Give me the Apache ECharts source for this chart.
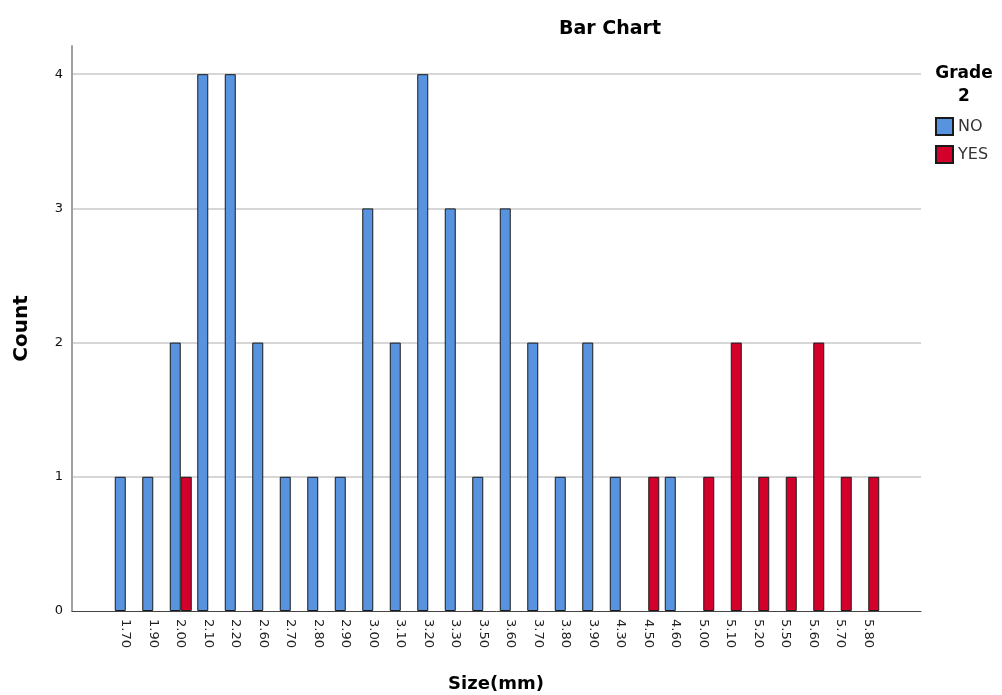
<!DOCTYPE html>
<html>
<head>
<meta charset="utf-8">
<script src="https://cdn.jsdelivr.net/npm/echarts@6/dist/echarts.min.js"></script>
<style>html,body{margin:0;padding:0;background:#fff;}#c{width:1002px;height:695px;}</style>
</head>
<body>
<div id="c"></div>
<script>
const categories = ['1.70','1.90','2.00','2.10','2.20','2.60','2.70','2.80','2.90','3.00','3.10','3.20','3.30','3.50','3.60','3.70','3.80','3.90','4.30','4.50','4.60','5.00','5.10','5.20','5.50','5.60','5.70','5.80'];
const noCounts  = [1,1,2,4,4,2,1,1,1,3,2,4,3,1,3,2,1,2,1,0,1,0,0,0,0,0,0,0];
const yesCounts = [0,0,1,0,0,0,0,0,0,0,0,0,0,0,0,0,0,0,0,1,0,1,2,1,1,2,1,1];
const yTicks = [0,1,2,3,4];

const FONT = '"DejaVu Sans", Arial, sans-serif';
const chart = echarts.init(document.getElementById('c'), null, {renderer:'canvas'});
const toData = arr => arr.map(v => v === 0 ? null : v);

chart.setOption({
  backgroundColor: '#ffffff',
  animation: false,
  textStyle: {fontFamily: FONT},
  title: [
    {text: 'Bar Chart', left: 605, top: 15, textAlign: 'center',
     textStyle: {fontFamily: FONT, fontSize: 19, fontWeight: 'bold', color: '#000'}},
    {text: 'Size(mm)', left: 491, top: 670, textAlign: 'center',
     textStyle: {fontFamily: FONT, fontSize: 18, fontWeight: 'bold', color: '#000'}},
    {text: 'Grade\n2', left: 959, top: 57, textAlign: 'center',
     textStyle: {fontFamily: FONT, fontSize: 17, fontWeight: 'bold', color: '#000', lineHeight: 23}}
  ],
  legend: {
    orient: 'vertical', left: 935, top: 117, padding: 0,
    itemWidth: 17, itemHeight: 17, itemGap: 9,
    icon: 'rect',
    textStyle: {fontFamily: FONT, fontSize: 16, color: '#333'},
    data: ['NO', 'YES']
  },
  grid: [
    {left: 112, right: 120, top: 46, bottom: 84},
    {left: 72, right: 81, top: 46, bottom: 84}
  ],
  xAxis: [
    {type: 'category', gridIndex: 0, data: categories,
     axisLine: {show: false}, axisTick: {show: false},
     axisLabel: {rotate: -90, margin: 8, fontFamily: FONT, fontSize: 13, color: '#222'}},
    {type: 'value', gridIndex: 1, min: 0, max: 1,
     axisLine: {show: true, lineStyle: {color: '#444', width: 1}},
     axisTick: {show: false}, axisLabel: {show: false}, splitLine: {show: false}}
  ],
  yAxis: [
    {type: 'value', gridIndex: 0, min: 0, max: 4.21, show: false},
    {type: 'value', gridIndex: 1, min: 0, max: 4.21, interval: 1,
     name: 'Count', nameLocation: 'middle', nameRotate: 90, nameGap: 40,
     nameTextStyle: {fontFamily: FONT, fontSize: 20, fontWeight: 'bold', color: '#000'},
     axisLine: {show: true, lineStyle: {color: '#a0a0a0', width: 2}},
     axisTick: {show: false},
     axisLabel: {margin: 9, fontFamily: FONT, fontSize: 13, color: '#111', showMaxLabel: false,
       formatter: v => yTicks.includes(v) ? String(v) : ''},
     splitLine: {show: true, showMinLine: false, showMaxLine: false, lineStyle: {color: '#c8c8c8', width: 1.5}}}
  ],
  series: [
    {name: 'NO', type: 'bar', xAxisIndex: 0, yAxisIndex: 0, data: toData(noCounts),
     barWidth: 11, barGap: '0%',
     itemStyle: {color: '#5893e0', borderColor: '#1a1a1a', borderWidth: 1}},
    {name: 'YES', type: 'bar', xAxisIndex: 0, yAxisIndex: 0, data: toData(yesCounts),
     barWidth: 11, barGap: '0%',
     itemStyle: {color: '#d3002c', borderColor: '#1a1a1a', borderWidth: 1}}
  ]
});
</script>
</body>
</html>
